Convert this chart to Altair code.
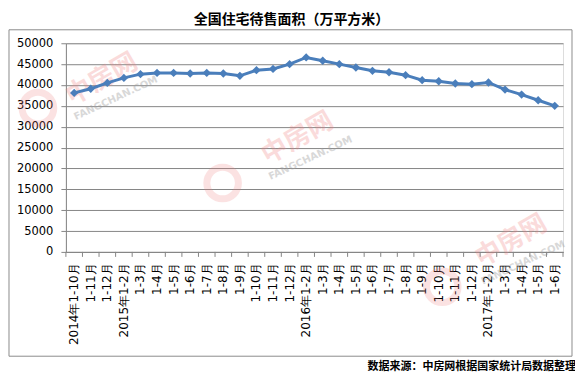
import altair as alt
import pandas as pd

categories = ["2014年1-10月", "1-11月", "1-12月", "2015年1-2月", "1-3月", "1-4月", "1-5月",
              "1-6月", "1-7月", "1-8月", "1-9月", "1-10月", "1-11月", "1-12月",
              "2016年1-2月", "1-3月", "1-4月", "1-5月", "1-6月", "1-7月", "1-8月", "1-9月",
              "1-10月", "1-11月", "1-12月", "2017年1-2月", "1-3月", "1-4月", "1-5月", "1-6月"]
values = [38100, 39100, 40500, 41700, 42600, 42900, 42900, 42750, 42900, 42750, 42200,
          43550, 43850, 45000, 46600, 45800, 45000, 44200, 43400, 43050, 42350, 41150,
          40900, 40350, 40200, 40600, 38900, 37700, 36350, 35000]
y_ticks = [0, 5000, 10000, 15000, 20000, 25000, 30000, 35000, 40000, 45000, 50000]
title_text = "全国住宅待售面积（万平方米）"
source_text = "数据来源：中房网根据国家统计局数据整理"

# unique keys so repeated labels like "1-3月" stay distinct
keys = [f"{i:02d}|{c}" for i, c in enumerate(categories)]
df = pd.DataFrame({"key": keys, "label": categories, "value": values})

W, H = 498, 209
BLUE = "#4a7ebb"
GRID = "#868686"
FONT = "DejaVu Sans"
CJK = "Noto Sans CJK SC"

x_enc = alt.X("key:N", sort=keys,
              scale=alt.Scale(paddingInner=0, paddingOuter=0),
              axis=alt.Axis(title=None, labelExpr="split(datum.label, '|')[1]",
                            labelAngle=270, ticks=False, domain=True,
                            domainColor=GRID, labelPadding=11, labelFont=FONT,
                            labelFontSize=12, labelColor="#000000", grid=False,
                            labelOverlap=False))
y_enc = alt.Y("value:Q", scale=alt.Scale(domain=[0, 50000], nice=False),
              axis=alt.Axis(title=None, values=y_ticks, format="d", labelOverlap=False,
                            grid=True, gridColor=GRID,
                            gridWidth=1, domain=True, domainColor=GRID,
                            tickColor=GRID, tickSize=5, labelPadding=8,
                            labelFont=FONT, labelFontSize=11.5, labelColor="#000000"))

base = alt.Chart(df)

line = base.mark_line(color=BLUE, strokeWidth=3).encode(x=x_enc, y=y_enc)
pts = base.mark_point(shape="diamond", filled=True, size=70, color=BLUE,
                      opacity=1).encode(x=x_enc, y=y_enc)

ticks = base.mark_rule(color=GRID, xOffset=-W / 60).encode(
    x=x_enc, y=alt.value(H), y2=alt.value(H + 5))
last_tick = alt.Chart(pd.DataFrame({"a": [0]})).mark_rule(color=GRID).encode(
    x=alt.value(W), y=alt.value(H), y2=alt.value(H + 5))

frame = alt.Chart(pd.DataFrame({"a": [0]})).mark_rect(
    fill=None, stroke="#8c8c8c", strokeWidth=1).encode(
    x=alt.value(-57), x2=alt.value(507), y=alt.value(-13.5), y2=alt.value(313.5))

title = alt.Chart(pd.DataFrame({"t": [title_text]})).mark_text(
    font=CJK, fontSize=14, fontWeight="bold", color="#000000").encode(
    text="t:N", x=alt.value(226), y=alt.value(-23))
source = alt.Chart(pd.DataFrame({"t": [source_text]})).mark_text(
    font=CJK, fontSize=11, fontWeight="bold", color="#000000", align="right").encode(
    text="t:N", x=alt.value(511), y=alt.value(324))

# faint watermarks
wm_cn = alt.Chart(pd.DataFrame({"t": ["中房网"] * 3, "px": [36, 232, 446], "py": [36, 95, 198]})).mark_text(
    font=CJK, fontSize=26, fontWeight="bold", color="#f08080", opacity=0.28, angle=330).encode(
    text="t:N", x=alt.X("px:Q", scale=None), y=alt.Y("py:Q", scale=None))
wm_en = alt.Chart(pd.DataFrame({"t": ["FANGCHAN.COM"] * 3, "px": [50, 245, 458], "py": [55, 115, 220]})).mark_text(
    font=FONT, fontSize=10, fontWeight="bold", color="#a0a0a0", opacity=0.4, angle=335).encode(
    text="t:N", x=alt.X("px:Q", scale=None), y=alt.Y("py:Q", scale=None))
wm_c = alt.Chart(pd.DataFrame({"px": [-28, 157, 377], "py": [65, 140, 244]})).mark_point(
    shape="circle", size=1000, filled=False, stroke="#f08080", strokeWidth=7, opacity=0.22).encode(
    x=alt.X("px:Q", scale=None), y=alt.Y("py:Q", scale=None))

chart = alt.layer(frame, wm_c, wm_cn, wm_en, line, pts, ticks, last_tick, title, source).properties(
    width=W, height=H, autosize="none",
    padding={"left": 58, "top": 35, "right": 12, "bottom": 124},
).configure_view(stroke=None).configure(background="#ffffff")

chart.save("out.html", embed_options={"renderer": "svg", "actions": False})
